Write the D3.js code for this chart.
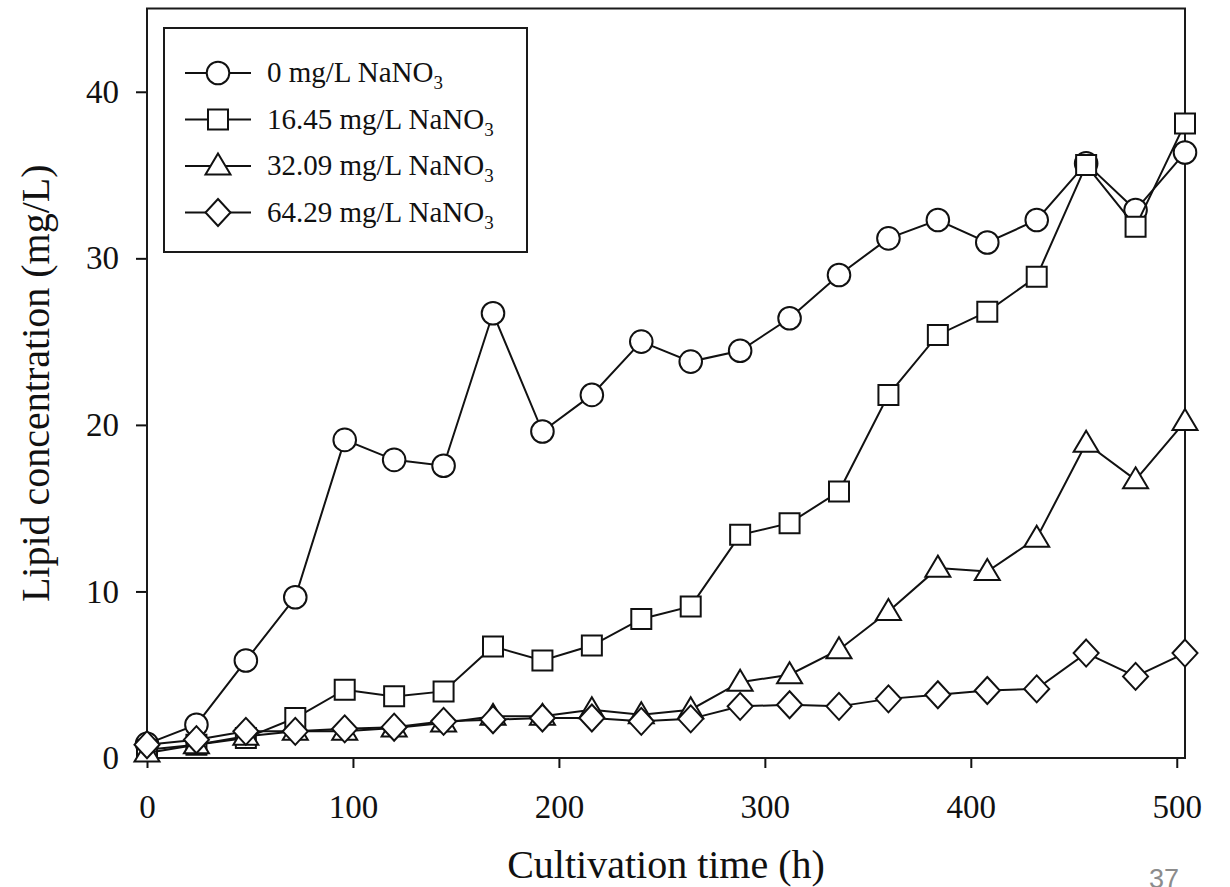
<!DOCTYPE html>
<html>
<head>
<meta charset="utf-8">
<script src="https://cdn.jsdelivr.net/npm/d3@7"></script>
<style>
  html, body { margin: 0; padding: 0; background: #fff; }
  svg { display: block; }
  text { font-family: "Liberation Serif", "Times New Roman", serif; fill: #111; }
</style>
</head>
<body>
<div id="chart"></div>
<script>
"use strict";
//sampling times (h), one point per day
var hours = [0, 24, 48, 72, 96, 120, 144, 168, 192, 216, 240, 264, 288, 312, 336, 360, 384, 408, 432, 456, 480, 504];

var lipid0 = [0.85, 2.0, 5.85, 9.65, 19.1, 17.9, 17.55, 26.7, 19.6, 21.8, 25.0, 23.8, 24.45, 26.4, 29.0, 31.2, 32.3, 30.95, 32.3, 35.7, 32.9, 36.35];
var lipid16 = [0.5, 0.8, 1.2, 2.4, 4.1, 3.7, 4.0, 6.7, 5.85, 6.75, 8.35, 9.1, 13.4, 14.1, 16.0, 21.8, 25.4, 26.8, 28.9, 35.6, 31.9, 38.1];
var lipid32 = [0.3, 0.8, 1.3, 1.6, 1.6, 1.8, 2.1, 2.5, 2.5, 2.9, 2.6, 2.9, 4.55, 5.0, 6.5, 8.8, 11.4, 11.2, 13.2, 18.9, 16.7, 20.2];
var lipid64 = [0.8, 1.1, 1.6, 1.6, 1.75, 1.85, 2.2, 2.3, 2.4, 2.4, 2.2, 2.35, 3.1, 3.2, 3.1, 3.55, 3.8, 4.05, 4.15, 6.3, 4.9, 6.3];

var seriesNames = ["0 mg/L NaNO", "16.45 mg/L NaNO", "32.09 mg/L NaNO", "64.29 mg/L NaNO"];
var seriesShapes = ["circle", "square", "triangle", "diamond"];
var seriesValues = [lipid0, lipid16, lipid32, lipid64];

var xTicks = [0, 100, 200, 300, 400, 500];
var yTicks = [0, 10, 20, 30, 40];

var w = 1230,
  h = 887;

var x = d3.scaleLinear().domain([0, 504]).range([147, 1185]);
var y = d3.scaleLinear().domain([0, 45]).range([758, 8.5]);

var svg = d3
  .select("#chart")
  .append("svg")
  .attr("width", w)
  .attr("height", h);

//marker paths centred on 0,0
function markerPath(shape) {
  if (shape === "circle") return "M-11.3,0A11.3,11.3 0 1,0 11.3,0A11.3,11.3 0 1,0 -11.3,0Z";
  if (shape === "square") return "M-10,-10H10V10H-10Z";
  if (shape === "triangle") return "M0,-12.5L12.5,8.5L-12.5,8.5Z";
  return "M0,-13.5L12.5,0L0,13.5L-12.5,0Z";
}

//axes
var xAxis = d3
  .axisBottom(x)
  .tickValues(xTicks)
  .tickSize(10)
  .tickSizeOuter(0)
  .tickPadding(27);

var yAxis = d3
  .axisLeft(y)
  .tickValues(yTicks)
  .tickSize(11)
  .tickSizeOuter(0)
  .tickPadding(17);

var gx = svg
  .append("g")
  .attr("transform", "translate(0," + y(0) + ")")
  .call(xAxis);

var gy = svg
  .append("g")
  .attr("transform", "translate(" + x(0) + ",0)")
  .call(yAxis);

[gx, gy].forEach(function(g) {
  g.select(".domain").remove();
  g.selectAll(".tick line").attr("stroke", "#111").attr("stroke-width", 2);
  g.selectAll(".tick text")
    .attr("fill", "#111")
    .style("font-size", "33px")
    .style("font-family", '"Liberation Serif", "Times New Roman", serif');
});

//plot frame
svg
  .append("rect")
  .attr("x", x(0))
  .attr("y", y(45))
  .attr("width", x(504) - x(0))
  .attr("height", y(0) - y(45))
  .attr("fill", "none")
  .attr("stroke", "#1a1a1a")
  .attr("stroke-width", 2);

//series: line first, then its markers
var line = d3
  .line()
  .x(function(d) {
    return x(d[0]);
  })
  .y(function(d) {
    return y(d[1]);
  });

seriesValues.forEach(function(vals, i) {
  var pts = hours.map(function(t, j) {
    return [t, vals[j]];
  });
  var g = svg.append("g");
  g.append("path")
    .datum(pts)
    .attr("d", line)
    .attr("fill", "none")
    .attr("stroke", "#111")
    .attr("stroke-width", 2);
  g.selectAll(".mark")
    .data(pts)
    .enter()
    .append("path")
    .attr("class", "mark")
    .attr("d", markerPath(seriesShapes[i]))
    .attr("transform", function(d) {
      return "translate(" + x(d[0]) + "," + y(d[1]) + ")";
    })
    .attr("fill", "#fff")
    .attr("stroke", "#111")
    .attr("stroke-width", 2);
});

//legend
var legend = svg.append("g");
legend
  .append("rect")
  .attr("x", 164)
  .attr("y", 28)
  .attr("width", 363)
  .attr("height", 224)
  .attr("fill", "#fff")
  .attr("stroke", "#1a1a1a")
  .attr("stroke-width", 2);

var legendY = [73, 119.5, 166, 212.5];
seriesNames.forEach(function(name, i) {
  var ly = legendY[i];
  legend
    .append("line")
    .attr("x1", 185)
    .attr("x2", 251)
    .attr("y1", ly)
    .attr("y2", ly)
    .attr("stroke", "#111")
    .attr("stroke-width", 2);
  legend
    .append("path")
    .attr("d", markerPath(seriesShapes[i]))
    .attr("transform", "translate(218," + ly + ")")
    .attr("fill", "#fff")
    .attr("stroke", "#111")
    .attr("stroke-width", 2);
  var t = legend
    .append("text")
    .attr("x", 267)
    .attr("y", ly + 9)
    .style("font-size", "29px")
    .text(name);
  t.append("tspan")
    .attr("dy", 7)
    .style("font-size", "19px")
    .text("3");
});

//axis titles
svg
  .append("text")
  .attr("x", (x(0) + x(504)) / 2)
  .attr("y", 878)
  .attr("text-anchor", "middle")
  .style("font-size", "40px")
  .text("Cultivation time (h)");

svg
  .append("text")
  .attr("transform", "translate(49," + (y(0) + y(45)) / 2 + ") rotate(-90)")
  .attr("text-anchor", "middle")
  .style("font-size", "40px")
  .text("Lipid concentration (mg/L)");

//slide page number
svg
  .append("text")
  .attr("x", 1149)
  .attr("y", 888)
  .style("font-family", '"Liberation Sans", Arial, sans-serif')
  .style("font-size", "27px")
  .style("fill", "#8c8c8c")
  .text("37");
</script>
</body>
</html>
